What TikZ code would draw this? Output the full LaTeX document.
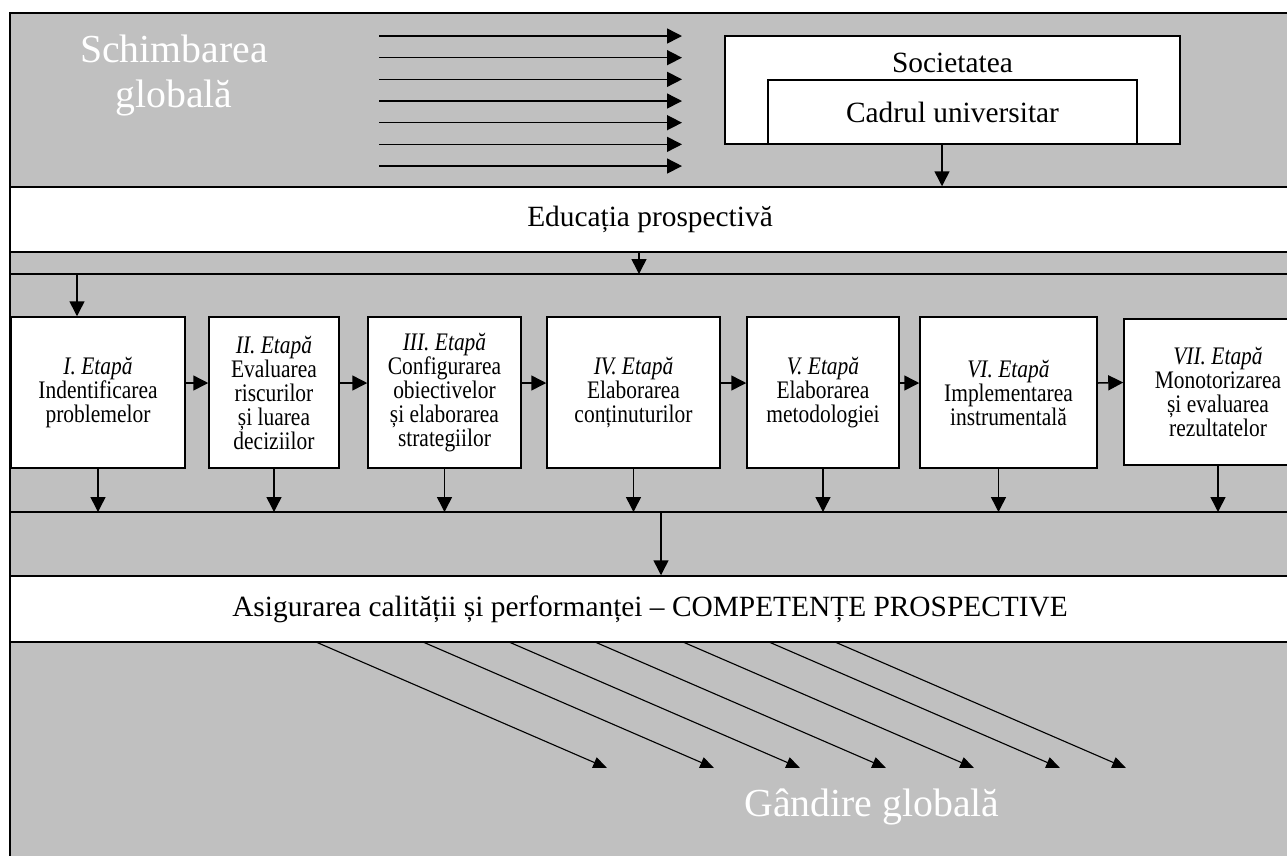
\documentclass[tikz,border=0pt]{standalone}
\usepackage{fontspec}
\setmainfont{Liberation Serif}
\newfontfamily\etapafont[FakeStretch=0.85]{Liberation Serif}
\usetikzlibrary{arrows.meta}
\definecolor{bggray}{RGB}{192,192,192}

\begin{document}
\begin{tikzpicture}[x=0.4pt, y=-0.4pt, font=\fontsize{11.75}{14}\selectfont]
	\tikzstyle{frame}=[draw,fill=white,line width=0.6pt,inner sep=0]
	\tikzstyle{band}=[frame,minimum width=512pt,minimum height=26pt]
	\tikzstyle{etapa}=[frame,align=center,minimum height=60.4pt,font=\etapafont\fontsize{10.1}{9.6}\selectfont]
	\tikzstyle{edge}=[-{Triangle[length=6pt,width=6pt]},line width=0.6pt]
	\tikzstyle{ray}=[-{Triangle[length=5.5pt,width=4.5pt]},line width=0.45pt]
	\tikzstyle{big}=[text=white,align=center,font=\fontsize{15.9}{18}\selectfont]

	\path[use as bounding box,clip] (0,0) rectangle (1287,855);
	\draw[line width=0.6pt,fill=bggray] (10,13) rectangle (1310,880);

	% top part
	\node[big] (change) at (174,75) {Schimbarea\\globală};
	\foreach \i in {0,...,6} {
		\coordinate (in\i) at (379,36+21.67*\i);
		\coordinate (out\i) at (682,36+21.67*\i);
		\draw[edge] (in\i) -- (out\i);
	}
	\node[frame,minimum width=182pt,minimum height=43.2pt] (soc) at (952.5,90) {};
	\node (soct) at (952.5,63) {Societatea};
	\node[frame,minimum width=147.6pt,minimum height=25.6pt] (cadru) at (952.5,112) {Cadrul universitar};

	\node[band] (edu) at (650,219.5) {Educația prospectivă};
	\draw[edge] ([xshift=-4.2pt]cadru.south) -- ([xshift=-4.2pt]cadru.south |- edu.north);

	\coordinate (barA) at (10,274);
	\coordinate (barAe) at (1310,274);
	\draw[line width=0.6pt] (barA) -- (barAe);
	\draw[edge] ([xshift=-4.4pt]edu.south) -- ([xshift=-4.4pt]edu.south |- barA);

	% stages
	\node[etapa,minimum width=69.6pt] (e1) at (98,392.5) {\textit{I. Etapă}\\Indentificarea\\problemelor};
	\node[etapa,minimum width=52pt] (e2) at (274,392.5) {\textit{II. Etapă}\\Evaluarea\\riscurilor\\și luarea\\deciziilor};
	\node[etapa,minimum width=61.2pt] (e3) at (444.5,392.5) {\textit{III. Etapă}\\Configurarea\\obiectivelor\\și elaborarea\\strategiilor};
	\node[etapa,minimum width=69.2pt] (e4) at (633.5,392.5) {\textit{IV. Etapă}\\Elaborarea\\conținuturilor};
	\node[etapa,minimum width=60.8pt] (e5) at (823,392.5) {\textit{V. Etapă}\\Elaborarea\\metodologiei};
	\node[etapa,minimum width=70.8pt] (e6) at (1008.5,392.5) {\textit{VI. Etapă}\\Implementarea\\instrumentală};
	\node[etapa,minimum width=75.2pt,minimum height=58.4pt] (e7) at (1218,392) {\textit{VII. Etapă}\\Monotorizarea\\și evaluarea\\rezultatelor};

	\draw[edge] ([xshift=-8.4pt]e1.north |- barA) -- ([xshift=-8.4pt]e1.north);
	\foreach \a/\b in {e1/e2,e2/e3,e3/e4,e4/e5,e5/e6,e6/e7}
		\draw[edge] ([yshift=3.8pt]\a.east) -- ([yshift=3.8pt]\b.west);

	\coordinate (barB) at (10,512);
	\coordinate (barBe) at (1310,512);
	\draw[line width=0.6pt] (barB) -- (barBe);
	\foreach \n in {e1,e2,e3,e4,e5,e7}
		\draw[edge] (\n.south) -- (\n.south |- barB);
	\draw[edge] ([xshift=-4pt]e6.south) -- ([xshift=-4pt]e6.south |- barB);

	% bottom part
	\node[band,minimum height=26.4pt] (asig) at (650,609) {Asigurarea calității și performanței – COMPETENȚE PROSPECTIVE};
	\draw[edge] ([xshift=4.4pt]asig.north |- barB) -- ([xshift=4.4pt]asig.north);

	\foreach \x [count=\i] in {316,423,509,595,683,769,835} {
		\coordinate (ra\i) at (\x,642);
		\coordinate (rb\i) at (\x+291,768);
		\draw[ray] (ra\i) -- (rb\i);
	}
	\node[big] (thought) at (872,807) {Gândire globală};
\end{tikzpicture}
\end{document}
